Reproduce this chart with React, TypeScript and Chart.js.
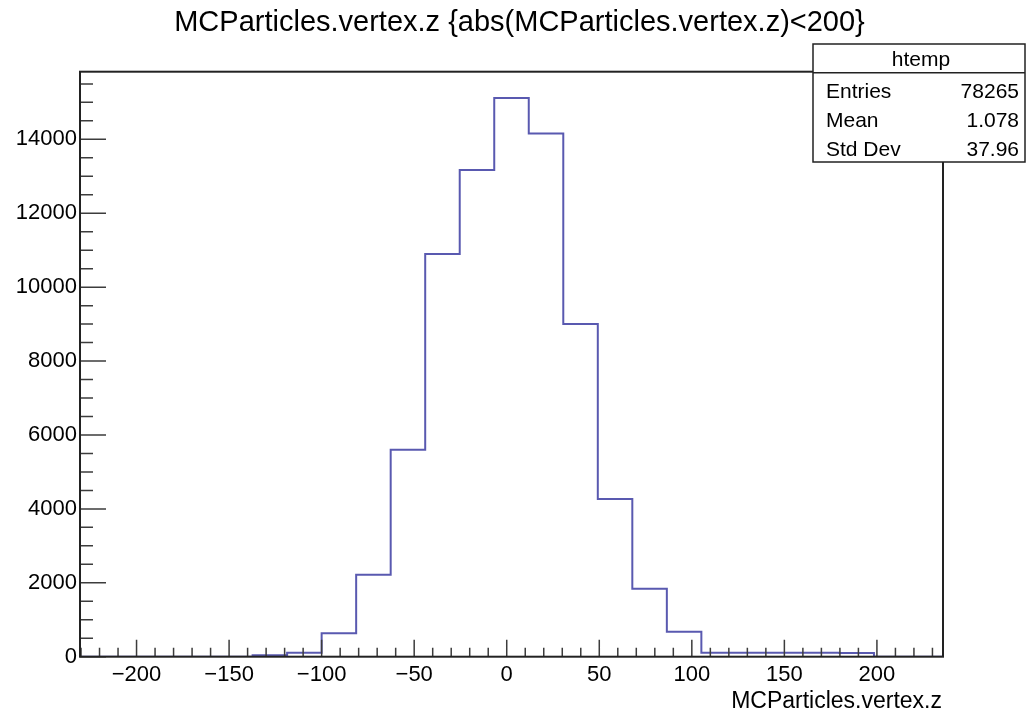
import React, { useEffect, useRef } from "react";
import { Chart, registerables } from "chart.js";

Chart.register(...registerables);

// ---- data ----
const binEdges = [
  -230.55, -211.9, -193.25, -174.6, -155.95, -137.3, -118.65, -100.0, -81.35,
  -62.7, -44.05, -25.4, -6.75, 11.9, 30.55, 49.2, 67.85, 86.5, 105.15, 123.8,
  142.45, 161.1, 179.75, 198.4, 217.05, 235.7,
];
const binCounts = [
  0, 0, 0, 0, 0, 40, 110, 635, 2215, 5600, 10900, 13170, 15120, 14160, 9000,
  4270, 1840, 675, 110, 108, 106, 104, 102, 0, 0,
];
const yMaxValue = 15830;
const xTickValues = [-200, -150, -100, -50, 0, 50, 100, 150, 200];
const yTickValues = [0, 2000, 4000, 6000, 8000, 10000, 12000, 14000];
const xMajorStep = 50;
const xMinorStep = 10;
const yMajorStep = 2000;
const yMinorStep = 500;

const titleText = "MCParticles.vertex.z {abs(MCParticles.vertex.z)<200}";
const xAxisTitle = "MCParticles.vertex.z";
const statsName = "htemp";
const statsLabels = ["Entries", "Mean", "Std Dev"];
const statsValues = ["78265", "1.078", "37.96"];

const FONT = '"Liberation Sans", Arial, Helvetica, sans-serif';

function fmtTick(v: number): string {
  return v < 0 ? "\u2212" + String(Math.abs(v)) : String(v);
}

const rootStylePlugin = {
  id: "rootStyle",
  beforeDraw(chart: any) {
    const ctx = chart.ctx;
    ctx.save();
    ctx.fillStyle = "#ffffff";
    ctx.fillRect(0, 0, chart.width, chart.height);
    ctx.restore();
  },
  afterDatasetsDraw(chart: any) {
    const ctx = chart.ctx;
    const { left, right, top, bottom } = chart.chartArea;
    const xs = chart.scales.x;
    const ys = chart.scales.y;
    ctx.save();
    ctx.strokeStyle = "#3c3c3c";
    ctx.lineWidth = 1.5;
    ctx.beginPath();
    const xStart = Math.ceil(xs.min / xMinorStep) * xMinorStep;
    for (let v = xStart; v <= xs.max; v += xMinorStep) {
      const px = xs.getPixelForValue(v);
      const major = Math.abs(v % xMajorStep) < 1e-6;
      const len = major ? 17 : 9;
      ctx.moveTo(px, bottom);
      ctx.lineTo(px, bottom - len);
    }
    for (let v = 0; v <= ys.max; v += yMinorStep) {
      const py = ys.getPixelForValue(v);
      const major = Math.abs(v % yMajorStep) < 1e-6;
      const len = major ? 26 : 13;
      ctx.moveTo(left, py);
      ctx.lineTo(left + len, py);
    }
    ctx.stroke();
    ctx.strokeStyle = "#222222";
    ctx.lineWidth = 2;
    ctx.strokeRect(left, top, right - left, bottom - top);
    ctx.restore();
  },
  afterDraw(chart: any) {
    const ctx = chart.ctx;
    const { right } = chart.chartArea;
    ctx.save();
    ctx.fillStyle = "#000";
    ctx.font = `29px ${FONT}`;
    ctx.textAlign = "center";
    ctx.textBaseline = "alphabetic";
    ctx.fillText(titleText, 519.5, 31);
    ctx.font = `23px ${FONT}`;
    ctx.textAlign = "right";
    ctx.fillText(xAxisTitle, right - 1, 708);
    const bx = 813;
    const by = 44;
    const bw = 212;
    const bh = 118;
    ctx.fillStyle = "#fff";
    ctx.fillRect(bx, by, bw, bh);
    ctx.strokeStyle = "#222";
    ctx.lineWidth = 1.5;
    ctx.strokeRect(bx, by, bw, bh);
    ctx.beginPath();
    ctx.moveTo(bx, 72.7);
    ctx.lineTo(bx + bw, 72.7);
    ctx.stroke();
    ctx.fillStyle = "#000";
    ctx.font = `21px ${FONT}`;
    ctx.textAlign = "center";
    ctx.fillText(statsName, 921, 66);
    const rowBase = [98.3, 126.7, 155.5];
    for (let i = 0; i < statsLabels.length; i++) {
      ctx.textAlign = "left";
      ctx.fillText(statsLabels[i], 826, rowBase[i]);
      ctx.textAlign = "right";
      ctx.fillText(statsValues[i], 1019, rowBase[i]);
    }
    ctx.restore();
  },
};

export default function App() {
  const canvasRef = useRef<HTMLCanvasElement | null>(null);

  useEffect(() => {
    document.body.style.margin = "0";
    const canvas = canvasRef.current;
    if (!canvas) return;
    const points = binEdges.map((e, i) => ({
      x: e,
      y: i < binCounts.length ? binCounts[i] : binCounts[binCounts.length - 1],
    }));
    const chart = new Chart(canvas, {
      type: "line",
      data: {
        datasets: [
          {
            data: points,
            stepped: "before",
            borderColor: "#5959b0",
            borderWidth: 2,
            pointRadius: 0,
            fill: false,
            tension: 0,
          },
        ],
      },
      options: {
        animation: false,
        responsive: false,
        maintainAspectRatio: false,
        devicePixelRatio: 1,
        layout: { padding: { left: 0, top: 71.7, right: 83, bottom: 0 } },
        plugins: {
          legend: { display: false },
          tooltip: { enabled: false },
          title: { display: false },
        },
        scales: {
          x: {
            type: "linear",
            min: binEdges[0],
            max: binEdges[binEdges.length - 1],
            grid: { display: false, drawTicks: false },
            border: { display: false },
            afterBuildTicks: (s: any) => {
              s.ticks = xTickValues.map((v) => ({ value: v }));
            },
            ticks: {
              autoSkip: false,
              maxRotation: 0,
              padding: 5,
              color: "#000",
              font: { family: FONT, size: 22 },
              callback: (v: any) => fmtTick(Number(v)),
            },
            afterFit: (s: any) => {
              s.height = 54.3;
            },
          },
          y: {
            type: "linear",
            min: 0,
            max: yMaxValue,
            grid: { display: false, drawTicks: false },
            border: { display: false },
            afterBuildTicks: (s: any) => {
              s.ticks = yTickValues.map((v) => ({ value: v }));
            },
            ticks: {
              autoSkip: false,
              padding: 3,
              color: "#000",
              font: { family: FONT, size: 22 },
              callback: (v: any) => fmtTick(Number(v)),
            },
            afterFit: (s: any) => {
              s.width = 80;
            },
          },
        },
      },
      plugins: [rootStylePlugin],
    } as any);
    return () => chart.destroy();
  }, []);

  return (
    <div style={{ position: "absolute", left: 0, top: 0, width: 1026, height: 711 }}>
      <canvas ref={canvasRef} width={1026} height={711} style={{ display: "block" }} />
    </div>
  );
}
